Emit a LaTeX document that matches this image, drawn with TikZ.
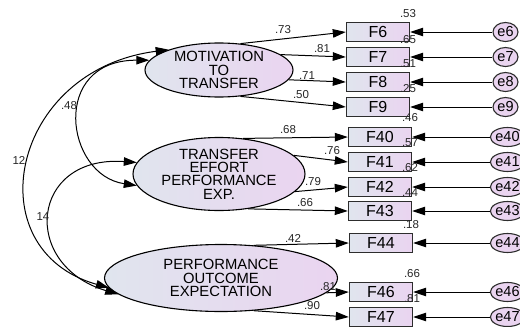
\documentclass[tikz,border=0pt]{standalone}
\usepackage{fontspec}
\setmainfont{Liberation Sans}
\usetikzlibrary{arrows.meta,shapes.geometric}
\definecolor{fillL}{RGB}{224,229,238}
\definecolor{fillR}{RGB}{234,212,240}
\definecolor{edgec}{RGB}{45,45,45}
\begin{document}
\begin{tikzpicture}[x=1pt,y=-1pt,
 latent/.style={ellipse,draw=black,line width=1.1pt,left color=fillL,right color=fillR,inner sep=0pt,align=center,font=\fontsize{14.8}{13.3}\selectfont},
 obs/.style={rectangle,draw=edgec,line width=1.4pt,left color=fillL,right color=fillR,minimum width=63pt,minimum height=19pt,inner sep=0pt,font=\fontsize{16}{16}\selectfont},
 err/.style={ellipse,draw=edgec,line width=1.1pt,fill=fillR,minimum height=19pt,inner sep=0pt,font=\fontsize{14.5}{14.5}\selectfont},
 load/.style={line width=1pt,-{Triangle[length=13pt,width=8.5pt]}},
 cov/.style={line width=1pt,{Triangle[length=13pt,width=8.5pt]}-{Triangle[length=13pt,width=8.5pt]}},
 lbl/.style={font=\fontsize{11.5}{11.5}\selectfont,inner sep=0pt,text=black!85}
]
\useasboundingbox (0,0) rectangle (520,327);
\clip (0,0) rectangle (520,327);

% latent variables
\node[latent,minimum width=148pt,minimum height=54pt] (mot) at (219,70) {MOTIVATION\\TO\\TRANSFER};
\node[latent,minimum width=172pt,minimum height=73pt] (tep) at (219,174) {TRANSFER\\EFFORT\\PERFORMANCE\\EXP.};
\node[latent,minimum width=233pt,minimum height=67pt] (poe) at (221,278) {PERFORMANCE\\OUTCOME\\EXPECTATION};

% observed variables
\node[obs] (F6) at (378,32) {F6};
\node[obs] (F7) at (378,57) {F7};
\node[obs] (F8) at (378,82) {F8};
\node[obs] (F9) at (378,107) {F9};
\node[obs] (F40) at (380,137) {F40};
\node[obs] (F41) at (380,162) {F41};
\node[obs] (F42) at (380,187) {F42};
\node[obs] (F43) at (380,211) {F43};
\node[obs] (F44) at (381,243) {F44};
\node[obs] (F46) at (381,292) {F46};
\node[obs] (F47) at (381,317) {F47};

% error terms
\node[err,minimum width=25pt] (e6) at (505.5,32) {e6};
\node[err,minimum width=25pt] (e7) at (505.5,57) {e7};
\node[err,minimum width=25pt] (e8) at (505.5,82) {e8};
\node[err,minimum width=25pt] (e9) at (505.5,107) {e9};
\node[err,minimum width=33pt] (e40) at (507.5,137) {e40};
\node[err,minimum width=33pt] (e41) at (507.5,162) {e41};
\node[err,minimum width=33pt] (e42) at (507.5,187) {e42};
\node[err,minimum width=33pt] (e43) at (507.5,211) {e43};
\node[err,minimum width=33pt] (e44) at (507.5,243) {e44};
\node[err,minimum width=33pt] (e46) at (507.5,292) {e46};
\node[err,minimum width=33pt] (e47) at (507.5,317) {e47};

\foreach \i in {6,7,8,9,40,41,42,43,44,46,47}{
  \draw[load] (e\i) -- (F\i);
}

% loadings
\draw[load] (mot.51) -- (F6.west);
\draw[load] (mot.14) -- (F7.west);
\draw[load] (mot.-8) -- (F8.west);
\draw[load] (mot.-51) -- (F9.west);
\draw[load] (tep.56) -- (F40.west);
\draw[load] (tep.14) -- (F41.west);
\draw[load] (tep.-13) -- (F42.west);
\draw[load] (tep.-50) -- (F43.west);
\draw[load] (poe.45) -- (F44.west);
\draw[load] (poe.-8) -- (F46.west);
\draw[load] (poe.-45) -- (F47.west);

\node[lbl] (l1) at (283,30) {.73};
\node[lbl] (l2) at (322,49) {.81};
\node[lbl] (l3) at (307,76) {.71};
\node[lbl] (l4) at (301,95) {.50};
\node[lbl] (l5) at (288,130) {.68};
\node[lbl] (l6) at (332,151) {.76};
\node[lbl] (l7) at (313,182) {.79};
\node[lbl] (l8) at (305,203) {.66};
\node[lbl] (l9) at (293,238) {.42};
\node[lbl] (l10) at (328,287) {.81};
\node[lbl] (l11) at (312,306) {.90};

% squared multiple correlations
\node[lbl] (r1) at (408,14) {.53};
\node[lbl] (r2) at (408,40) {.65};
\node[lbl] (r3) at (408,64) {.51};
\node[lbl] (r4) at (408,89) {.25};
\node[lbl] (r5) at (410,118) {.46};
\node[lbl] (r6) at (410,143) {.57};
\node[lbl] (r7) at (410,168) {.62};
\node[lbl] (r8) at (410,193) {.44};
\node[lbl] (r9) at (411,225) {.18};
\node[lbl] (r10) at (412,274) {.66};
\node[lbl] (r11) at (412,299) {.81};

% covariances
\draw[cov] (mot.158) .. controls (10,70) and (-25,250) .. (poe.185);
\draw[cov] (mot.172) .. controls (50,60) and (65,175) .. (tep.188);
\draw[cov] (tep.172) .. controls (30,155) and (20,265) .. (poe.189);

\node[lbl] (c1) at (69,106) {.48};
\node[lbl] (c2) at (19,160) {12};
\node[lbl] (c3) at (43,217) {14};
\end{tikzpicture}
\end{document}
